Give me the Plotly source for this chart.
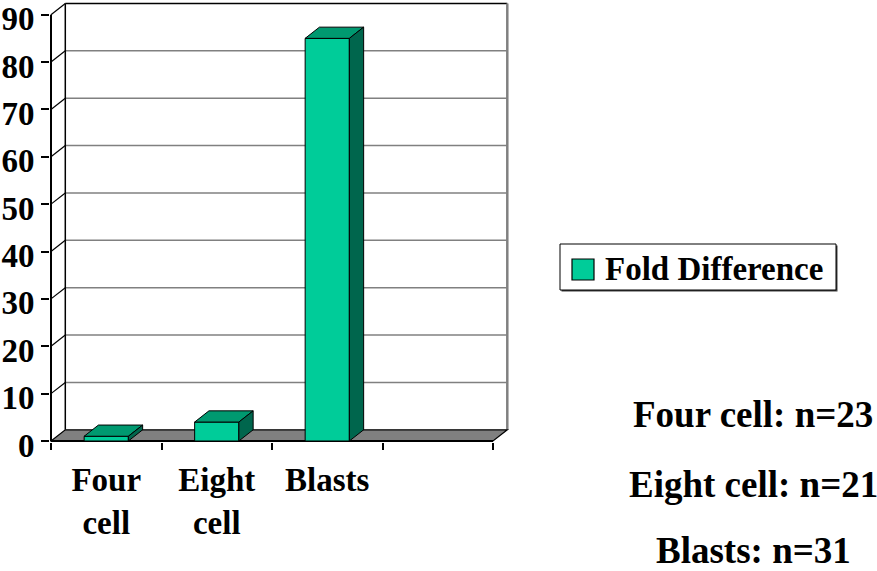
import plotly.graph_objects as go

# ---- data -------------------------------------------------------------
categories = ["Four<br>cell", "Eight<br>cell", "Blasts"]
fold_difference = [1, 4, 85]
y_ticks = [0, 10, 20, 30, 40, 50, 60, 70, 80, 90]
n_labels = ["Four cell: n=23", "Eight cell: n=21", "Blasts: n=31"]
series_name = "Fold Difference"

# ---- look -------------------------------------------------------------
FONT = "Liberation Serif, Times New Roman, serif"
FRONT = "#00CC99"
TOP = "#009970"
SIDE = "#00664D"
FLOOR = "#808080"
GRID = "#808080"

W, H = 877, 571
N_SLOTS = 4                 # three bars plus one empty slot
Y_MAX = 90
BAR_W = 0.4
# pixel frame of the front plane: x=0 at PX0, y=0 at PY0
PX0, PXU = 51.0, 110.5      # px per category slot
PY0, PYU = 441.0, 4.737     # px per unit
DEPTH_PX = (14.3, 11.2)     # oblique offset of the back plane
dx = DEPTH_PX[0] / PXU
dy = DEPTH_PX[1] / PYU

# plot area in pixels
L, R, T, B = 50, 515, 1, 442
x_range = [(L - PX0) / PXU, (R - PX0) / PXU]
y_range = [(PY0 - B) / PYU, (PY0 - T) / PYU]


def px(xp):
    return (xp - L) / (R - L)


def py(yp):
    return (B - yp) / (B - T)


fig = go.Figure()

# front faces of the bars
centers = [i + 0.5 for i in range(len(categories))]
fig.add_trace(go.Bar(
    x=centers, y=fold_difference, width=BAR_W, name=series_name,
    marker=dict(color=FRONT, line=dict(color="black", width=1)),
    showlegend=False, hoverinfo="skip",
))

# top and side faces of the bars
for c, v in zip(centers, fold_difference):
    x0, x1 = c - BAR_W / 2, c + BAR_W / 2
    fig.add_trace(go.Scatter(
        x=[x0, x0 + dx, x1 + dx, x1, x0],
        y=[v, v + dy, v + dy, v, v],
        fill="toself", fillcolor=TOP, mode="lines",
        line=dict(color="black", width=1), showlegend=False, hoverinfo="skip",
    ))
    fig.add_trace(go.Scatter(
        x=[x1, x1 + dx, x1 + dx, x1, x1],
        y=[0, dy, v + dy, v, 0],
        fill="toself", fillcolor=SIDE, mode="lines",
        line=dict(color="black", width=1), showlegend=False, hoverinfo="skip",
    ))

shapes = []
xe = N_SLOTS
# back wall
shapes.append(dict(type="rect", xref="x", yref="y", x0=dx, x1=xe + dx, y0=dy, y1=Y_MAX + dy,
                   fillcolor="white", line=dict(width=0), layer="below"))
# gridlines: side-wall diagonal plus back-wall horizontal
for v in y_ticks[1:]:
    shapes.append(dict(type="line", xref="x", yref="y", x0=dx, x1=xe + dx, y0=v + dy, y1=v + dy,
                       line=dict(color="black" if v == Y_MAX else GRID, width=1.5), layer="below"))
    shapes.append(dict(type="line", xref="x", yref="y", x0=0, x1=dx, y0=v, y1=v + dy,
                       line=dict(color="black", width=1.2), layer="below"))
# wall edges
shapes.append(dict(type="line", xref="x", yref="y", x0=dx, x1=dx, y0=dy, y1=Y_MAX + dy,
                   line=dict(color="black", width=1.5), layer="below"))
shapes.append(dict(type="line", xref="x", yref="y", x0=xe + dx, x1=xe + dx, y0=dy, y1=Y_MAX + dy,
                   line=dict(color=GRID, width=2.5), layer="below"))
# floor
shapes.append(dict(type="path", xref="x", yref="y",
                   path=f"M 0,0 L {xe},0 L {xe + dx},{dy} L {dx},{dy} Z",
                   fillcolor=FLOOR, line=dict(color="black", width=1.2), layer="below"))
shapes.append(dict(type="line", xref="x", yref="y", x0=0, x1=xe, y0=0, y1=0,
                   line=dict(color="black", width=2), layer="below"))
# front value axis
shapes.append(dict(type="line", xref="x", yref="y", x0=0, x1=0, y0=0, y1=Y_MAX,
                   line=dict(color="black", width=2), layer="below"))

# legend box
lx0, lx1, ly0, ly1 = 560, 836, 244, 290
shapes.append(dict(type="rect", xref="paper", yref="paper",
                   x0=px(lx0 + 1.5), x1=px(lx1 + 1.5), y0=py(ly0 + 1.5), y1=py(ly1 + 1.5),
                   fillcolor="#404040", line=dict(width=0)))
shapes.append(dict(type="rect", xref="paper", yref="paper",
                   x0=px(lx0), x1=px(lx1), y0=py(ly0), y1=py(ly1),
                   fillcolor="white", line=dict(color="black", width=1)))
shapes.append(dict(type="rect", xref="paper", yref="paper",
                   x0=px(572), x1=px(594), y0=py(259), y1=py(280),
                   fillcolor=FRONT, line=dict(color="black", width=1.2)))

annotations = [dict(
    xref="paper", yref="paper", x=px(603), y=py(269), xanchor="left", yanchor="middle",
    text=f"<b>{series_name}</b>", showarrow=False,
    font=dict(family=FONT, size=33, color="black"),
)]
for i, t in enumerate(n_labels):
    annotations.append(dict(
        xref="paper", yref="paper", x=px(753), y=py([414, 484, 550][i]),
        xanchor="center", yanchor="middle", text=f"<b>{t}</b>", showarrow=False,
        font=dict(family=FONT, size=37, color="black"),
    ))

fig.update_layout(
    width=W, height=H,
    margin=dict(l=L, r=W - R, t=T, b=H - B, autoexpand=False),
    paper_bgcolor="white", plot_bgcolor="white",
    showlegend=False,
    shapes=shapes, annotations=annotations,
    font=dict(family=FONT, color="black"),
    xaxis=dict(
        range=x_range, showgrid=False, zeroline=False, showline=False, automargin=False,
        tickmode="array", tickvals=centers, ticktext=[f"<b>{c}</b>" for c in categories],
        ticks="", ticklabelstandoff=15,
        tickfont=dict(family=FONT, size=33, color="black"),
        minor=dict(tickmode="array", tickvals=list(range(N_SLOTS + 1)),
                   ticks="outside", ticklen=7, tickwidth=1.5, tickcolor="black", showgrid=False),
    ),
    yaxis=dict(
        range=y_range, showgrid=False, zeroline=False, showline=False, automargin=False,
        tickmode="array", tickvals=y_ticks, ticktext=[f"<b>{v}</b>" for v in y_ticks],
        ticks="outside", ticklen=8, tickwidth=1.5, tickcolor="black",
        ticklabelshift=4, ticklabeloverflow="allow",
        tickfont=dict(family=FONT, size=33, color="black"),
    ),
)

fig.write_html("out.html")
